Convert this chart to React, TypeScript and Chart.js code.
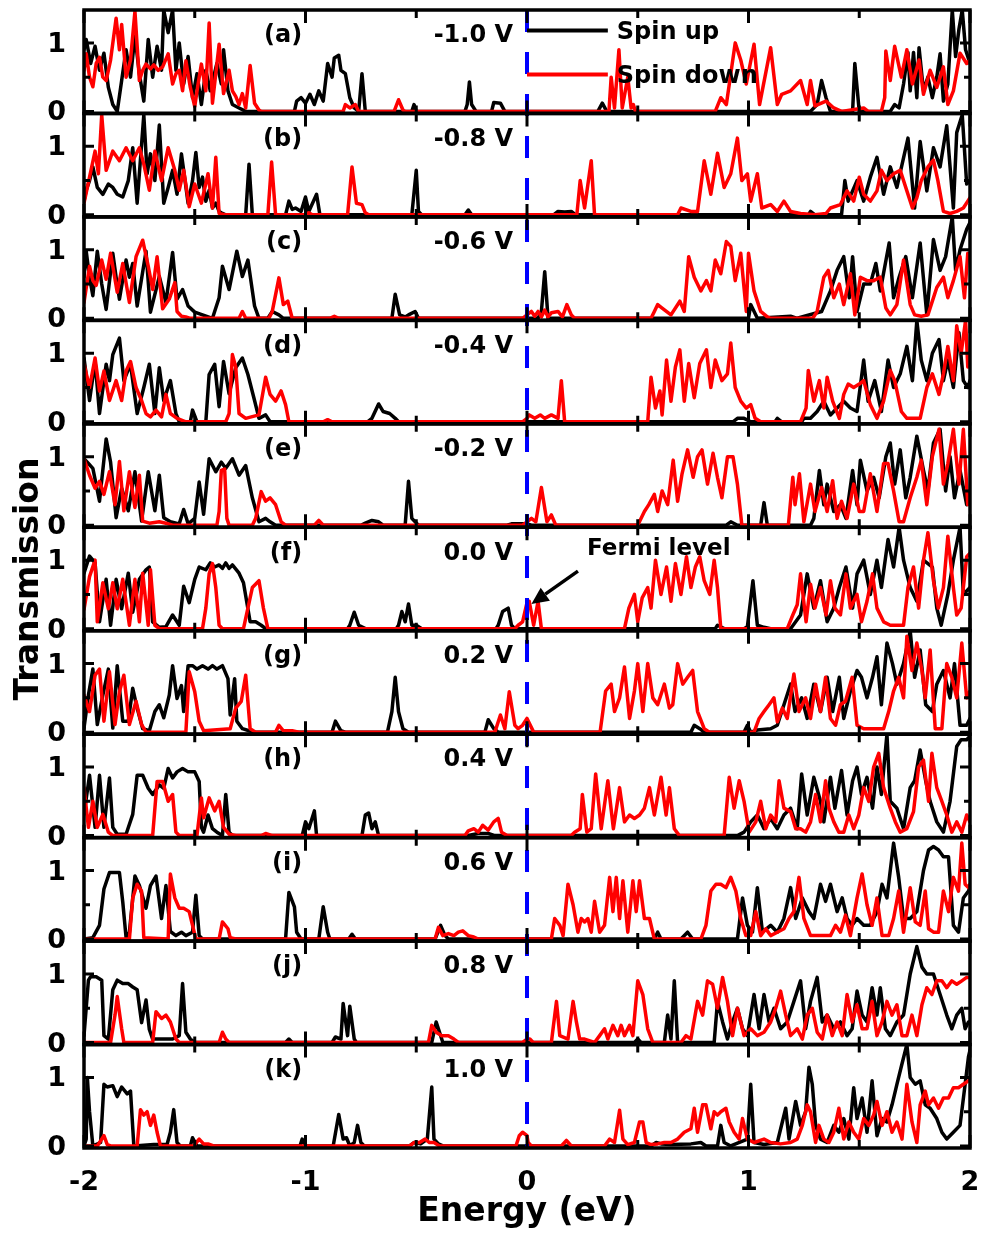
import React, { useEffect, useRef } from 'react';
import { Chart, registerables } from 'chart.js';

Chart.register(...registerables);

const FONT = '"DejaVu Sans", "Liberation Sans", Arial, sans-serif';

const xTickValues = [-2, -1, 0, 1, 2];
const xMinorTicks = [-1.5, -0.5, 0.5, 1.5];
const yTickValues = [0, 0.5, 1];
const panelLabels = ['(a)', '(b)', '(c)', '(d)', '(e)', '(f)', '(g)', '(h)', '(i)', '(j)', '(k)'];
const biasLabels = ['-1.0 V', '-0.8 V', '-0.6 V', '-0.4 V', '-0.2 V', '0.0 V', '0.2 V', '0.4 V', '0.6 V', '0.8 V', '1.0 V'];
const seriesNames = ['Spin up', 'Spin down'];

// Each series: flat list of (energy eV, transmission) pairs
const upA = [-2.0,0.9, -1.99,1.05, -1.97,0.7, -1.95,0.95, -1.93,0.6, -1.91,0.85, -1.89,0.35, -1.87,0.1, -1.85,0.0, -1.83,0.45, -1.81,0.9, -1.79,0.5, -1.77,1.1, -1.75,0.55, -1.73,0.15, -1.71,1.05, -1.69,0.5, -1.67,0.95, -1.65,0.6, -1.64,1.48, -1.62,1.15, -1.6,1.48, -1.585,0.6, -1.57,1.0, -1.55,0.4, -1.53,0.8, -1.51,0.2, -1.49,0.55, -1.47,0.1, -1.45,0.6, -1.43,0.3, -1.4,0.7, -1.38,0.4, -1.37,0.9, -1.35,0.3, -1.33,0.1, -1.3,0.05, -1.27,0, -1.05,0, -1.04,0.15, -1.02,0.2, -1.0,0.12, -0.98,0.25, -0.96,0.1, -0.94,0.3, -0.92,0.15, -0.9,0.7, -0.88,0.5, -0.87,0.78, -0.85,0.82, -0.84,0.6, -0.82,0.55, -0.8,0.2, -0.78,0.05, -0.76,0, -0.745,0.55, -0.73,0, -0.52,0, -0.51,0.1, -0.5,0, -0.28,0, -0.27,0.1, -0.26,0.43, -0.25,0.1, -0.23,0, -0.16,0, -0.15,0.13, -0.12,0.12, -0.1,0, 0.32,0, 0.34,0.12, 0.36,0, 1.28,0, 1.31,0.1, 1.33,0.45, 1.35,0.2, 1.37,0, 1.47,0, 1.48,0.7, 1.5,0, 1.64,0, 1.66,0.1, 1.68,0.05, 1.7,0.4, 1.72,0.86, 1.73,0.3, 1.745,0.86, 1.76,0.2, 1.77,0.93, 1.79,0.3, 1.81,0.5, 1.83,0.2, 1.85,0.5, 1.865,0.84, 1.88,0.15, 1.9,0.4, 1.92,1.48, 1.935,0.8, 1.95,1.2, 1.965,1.48, 1.98,0.9, 2.0,0.7];
const downA = [-2.0,0.6, -1.99,0.84, -1.975,0.5, -1.96,0.36, -1.945,0.7, -1.93,0.79, -1.915,0.5, -1.9,0.45, -1.88,0.75, -1.855,1.36, -1.84,0.9, -1.83,1.27, -1.81,0.5, -1.79,0.75, -1.77,1.46, -1.75,0.45, -1.735,0.6, -1.72,0.69, -1.7,0.62, -1.685,0.68, -1.665,0.6, -1.645,0.65, -1.62,0.84, -1.6,0.4, -1.585,0.55, -1.57,0.6, -1.555,0.3, -1.54,0.74, -1.52,0.35, -1.5,0.07, -1.485,0.4, -1.47,0.69, -1.45,0.3, -1.435,1.29, -1.42,0.12, -1.39,0.98, -1.37,0.26, -1.345,0.6, -1.33,0.3, -1.315,0.22, -1.3,0.1, -1.285,0.26, -1.27,0.05, -1.25,0.67, -1.23,0.12, -1.21,0.02, -1.2,0, -0.83,0, -0.82,0.1, -0.8,0.05, -0.775,0.1, -0.76,0, -0.6,0, -0.58,0.17, -0.56,0.02, -0.55,0, 0.37,0, 0.38,0.5, 0.395,0.05, 0.415,0.9, 0.43,0.05, 0.455,0.5, 0.47,0.05, 0.48,0.1, 0.49,0, 0.85,0, 0.875,0.2, 0.9,0.1, 0.94,1.0, 0.965,0.75, 0.99,0.4, 1.025,0.98, 1.05,0.1, 1.1,0.93, 1.13,0.1, 1.15,0.25, 1.19,0.3, 1.235,0.45, 1.265,0.1, 1.28,0.45, 1.3,0.08, 1.35,0.15, 1.385,0.05, 1.42,0, 1.52,0.05, 1.54,0, 1.6,0, 1.615,0.2, 1.62,0.88, 1.64,0.45, 1.66,0.95, 1.69,0.5, 1.715,0.9, 1.74,0.4, 1.77,0.75, 1.79,0.25, 1.82,0.6, 1.85,0.35, 1.88,0.65, 1.9,0.1, 1.925,0.3, 1.955,0.85, 1.985,0.7, 2.0,0.75];

const upB = [-2.0,0.2, -1.99,0.36, -1.975,0.5, -1.96,0.7, -1.94,0.4, -1.915,0.3, -1.89,0.45, -1.87,0.4, -1.85,0.3, -1.825,0.26, -1.8,0.5, -1.78,0.98, -1.76,0.17, -1.73,1.46, -1.715,0.6, -1.7,0.89, -1.68,0.5, -1.66,1.31, -1.64,0.17, -1.62,0.4, -1.6,0.65, -1.58,0.3, -1.56,0.89, -1.53,0.17, -1.51,0.5, -1.495,0.91, -1.48,0.4, -1.465,0.55, -1.45,0.2, -1.435,0.36, -1.42,0.1, -1.405,0.17, -1.39,0.05, -1.375,0.02, -1.36,0, -1.27,0, -1.255,0.74, -1.24,0, -1.09,0, -1.075,0.2, -1.06,0.08, -1.045,0.1, -1.02,0.05, -1.0,0.26, -0.985,0.05, -0.95,0.3, -0.935,0, -0.52,0, -0.5,0.65, -0.49,0.05, -0.475,0, -0.28,0, -0.265,0.07, -0.25,0, 0.12,0, 0.14,0.05, 0.17,0.04, 0.2,0.05, 0.22,0, 1.27,0, 1.28,0.05, 1.3,0, 1.42,0, 1.435,0.5, 1.45,0.2, 1.49,0.5, 1.52,0.2, 1.55,0.55, 1.58,0.84, 1.61,0.3, 1.64,0.7, 1.67,0.4, 1.72,1.12, 1.75,0.1, 1.775,1.07, 1.805,0.35, 1.835,0.98, 1.865,0.7, 1.895,1.3, 1.925,0.1, 1.94,1.2, 1.965,1.46, 1.985,0.45, 2.0,0.5];
const downB = [-2.0,0.17, -1.975,0.55, -1.95,0.93, -1.935,0.6, -1.92,1.46, -1.9,0.65, -1.87,0.93, -1.84,0.79, -1.81,0.98, -1.78,0.79, -1.75,0.98, -1.73,0.74, -1.705,0.36, -1.68,0.93, -1.65,0.5, -1.62,0.98, -1.59,0.65, -1.57,0.36, -1.55,0.65, -1.525,0.12, -1.5,0.45, -1.47,0.17, -1.44,0.6, -1.42,0.1, -1.405,0.84, -1.39,0.02, -1.36,0, -1.17,0, -1.153,0.77, -1.135,0, -1.0,0, -0.985,0.03, -0.97,0, -0.81,0, -0.79,0.7, -0.77,0.17, -0.745,0.15, -0.73,0.03, -0.715,0, 0.225,0, 0.24,0.5, 0.26,0.1, 0.29,0.79, 0.305,0, 0.68,0, 0.695,0.1, 0.74,0.05, 0.77,0.05, 0.8,0.79, 0.83,0.3, 0.86,0.9, 0.89,0.4, 0.92,0.6, 0.95,1.12, 0.97,0.5, 0.995,0.6, 1.01,0.2, 1.04,0.6, 1.06,0.1, 1.1,0.15, 1.13,0.05, 1.16,0.2, 1.19,0.05, 1.235,0.02, 1.3,0, 1.35,0.02, 1.37,0.1, 1.415,0.15, 1.445,0.35, 1.475,0.2, 1.5,0.55, 1.52,0.3, 1.55,0.2, 1.58,0.35, 1.6,0.65, 1.625,0.5, 1.655,0.6, 1.685,0.65, 1.715,0.35, 1.74,0.1, 1.76,0.25, 1.78,0.5, 1.81,0.7, 1.835,0.8, 1.855,0.5, 1.88,0.05, 1.91,0.02, 1.94,0.05, 1.97,0.1, 1.99,0.2, 2.0,0.25];

const upC = [-2.0,0.6, -1.99,0.98, -1.975,0.6, -1.96,0.33, -1.94,0.98, -1.92,0.5, -1.9,0.13, -1.87,0.95, -1.855,0.6, -1.84,0.28, -1.81,0.85, -1.795,0.6, -1.78,0.8, -1.76,0.18, -1.72,0.98, -1.7,0.09, -1.66,0.61, -1.63,0.23, -1.6,0.96, -1.58,0.28, -1.555,0.42, -1.53,0.18, -1.5,0.09, -1.465,0.05, -1.42,0, -1.39,0.3, -1.375,0.76, -1.345,0.42, -1.31,0.98, -1.285,0.61, -1.26,0.85, -1.23,0.18, -1.21,0, -1.17,0, -1.15,0.1, -1.12,0.05, -1.1,0, -0.61,0, -0.595,0.35, -0.575,0.05, -0.55,0.02, -0.535,0.05, -0.505,0.1, -0.49,0, 0.05,0, 0.065,0.1, 0.08,0.68, 0.095,0, 1.0,0, 1.01,0.2, 1.04,0, 1.19,0.03, 1.22,0, 1.33,0.1, 1.37,0.4, 1.4,0.7, 1.43,0.9, 1.455,0.3, 1.47,0.9, 1.49,0.1, 1.52,0.5, 1.55,0.5, 1.575,0.8, 1.595,0.4, 1.635,1.1, 1.655,0.3, 1.68,0.6, 1.71,0.9, 1.74,0.3, 1.775,1.1, 1.805,0.05, 1.835,1.15, 1.865,0.7, 1.89,0.9, 1.92,1.48, 1.935,0.7, 1.955,1.0, 1.985,1.3, 2.0,1.4];
const downC = [-2.0,0.23, -1.975,0.76, -1.96,0.55, -1.945,0.48, -1.92,0.85, -1.9,0.57, -1.88,0.95, -1.85,0.38, -1.825,0.8, -1.795,0.23, -1.765,0.9, -1.735,1.14, -1.71,0.76, -1.69,0.42, -1.67,0.9, -1.645,0.14, -1.615,0.28, -1.59,0.52, -1.58,0.1, -1.56,0.03, -1.54,0.02, -1.52,0, -1.3,0, -1.285,0.1, -1.27,0, -1.165,0, -1.15,0.1, -1.12,0.59, -1.1,0.2, -1.08,0.25, -1.06,0, -0.89,0, -0.87,0.03, -0.85,0, -0.02,0, 0.0,0.05, 0.02,0.1, 0.035,0.03, 0.05,0.1, 0.065,0.02, 0.08,0.12, 0.095,0.02, 0.11,0.08, 0.14,0.1, 0.16,0.02, 0.18,0.2, 0.2,0.05, 0.215,0, 0.56,0, 0.575,0.1, 0.59,0.2, 0.61,0.15, 0.65,0.05, 0.69,0.25, 0.71,0.1, 0.73,0.9, 0.755,0.6, 0.785,0.4, 0.81,0.55, 0.83,0.4, 0.85,0.85, 0.875,0.65, 0.9,1.12, 0.92,1.05, 0.94,0.55, 0.965,0.95, 0.99,0.1, 1.0,0.95, 1.025,0.4, 1.055,0.1, 1.085,0.02, 1.1,0, 1.29,0, 1.31,0.1, 1.34,0.6, 1.36,0.7, 1.385,0.3, 1.41,0.5, 1.43,0.2, 1.46,0.65, 1.48,0.05, 1.505,0.6, 1.535,0.55, 1.565,0.55, 1.595,0.6, 1.62,0.15, 1.64,0.05, 1.67,0.2, 1.7,0.85, 1.73,0.2, 1.75,0.05, 1.78,0.03, 1.81,0.05, 1.85,0.45, 1.88,0.6, 1.9,0.3, 1.925,0.55, 1.955,0.9, 1.975,0.3, 1.99,0.95, 2.0,0.9];

const upD = [-2.0,0.93, -1.975,0.31, -1.95,0.88, -1.93,0.12, -1.9,0.84, -1.885,0.6, -1.87,0.98, -1.84,1.22, -1.82,0.6, -1.79,0.84, -1.76,0.12, -1.73,0.5, -1.705,0.84, -1.68,0.12, -1.66,0.79, -1.64,0.31, -1.61,0.6, -1.585,0.12, -1.57,0, -1.52,0, -1.51,0.17, -1.49,0, -1.45,0, -1.435,0.69, -1.41,0.84, -1.39,0.22, -1.37,0.88, -1.345,0.41, -1.315,0.79, -1.285,0.93, -1.26,0.69, -1.23,0.31, -1.21,0.05, -1.18,0.1, -1.16,0, -0.72,0, -0.7,0.05, -0.67,0.26, -0.65,0.15, -0.62,0.12, -0.595,0.05, -0.58,0, 0.93,0, 0.95,0.05, 0.98,0.05, 1.01,0, 1.12,0, 1.13,0.05, 1.15,0, 1.24,0, 1.25,0.05, 1.28,0.05, 1.31,0.15, 1.34,0.3, 1.37,0.1, 1.4,0.2, 1.43,0.3, 1.46,0.2, 1.49,0.15, 1.52,0.9, 1.54,0.3, 1.57,0.6, 1.6,0.15, 1.63,0.9, 1.655,0.5, 1.685,0.7, 1.715,1.1, 1.74,0.6, 1.76,1.48, 1.78,0.9, 1.805,0.6, 1.83,1.0, 1.86,1.2, 1.88,0.6, 1.9,0.9, 1.925,0.5, 1.95,1.3, 1.97,0.6, 1.99,0.5, 2.0,0.6];
const downD = [-2.0,0.84, -1.975,0.5, -1.95,0.93, -1.93,0.45, -1.91,0.74, -1.885,0.31, -1.855,0.6, -1.83,0.31, -1.81,0.74, -1.79,0.88, -1.765,0.5, -1.74,0.31, -1.72,0.12, -1.7,0.07, -1.675,0.17, -1.65,0.07, -1.63,0.4, -1.61,0.12, -1.58,0.05, -1.54,0, -1.36,0, -1.345,0.12, -1.33,0.98, -1.315,0.8, -1.3,0.12, -1.27,0.05, -1.21,0.1, -1.18,0.65, -1.16,0.4, -1.135,0.3, -1.11,0.45, -1.09,0.25, -1.075,0, -0.92,0, -0.9,0.03, -0.88,0, -0.02,0, 0.0,0.05, 0.01,0.1, 0.035,0.05, 0.06,0.1, 0.08,0.05, 0.11,0.1, 0.14,0.05, 0.155,0.6, 0.17,0, 0.545,0, 0.56,0.65, 0.58,0.2, 0.6,0.45, 0.61,0.1, 0.63,0.9, 0.65,0.3, 0.67,0.8, 0.69,1.05, 0.71,0.3, 0.73,0.85, 0.755,0.35, 0.78,0.85, 0.81,1.05, 0.83,0.5, 0.85,0.9, 0.88,0.6, 0.905,0.7, 0.92,1.15, 0.94,0.5, 0.965,0.3, 0.99,0.2, 1.01,0.25, 1.03,0.05, 1.055,0, 1.235,0, 1.26,0.2, 1.27,0.75, 1.295,0.3, 1.32,0.6, 1.34,0.2, 1.355,0.65, 1.38,0.3, 1.41,0.05, 1.43,0.4, 1.45,0.55, 1.475,0.5, 1.5,0.55, 1.52,0.6, 1.55,0.25, 1.58,0.05, 1.61,0.3, 1.64,0.75, 1.66,0.6, 1.69,0.15, 1.715,0.05, 1.745,0.05, 1.775,0.05, 1.805,0.5, 1.83,0.7, 1.86,0.4, 1.88,0.7, 1.9,1.1, 1.925,0.6, 1.94,1.4, 1.96,1.0, 1.98,1.48, 1.99,0.8, 2.0,0.9];

const upE = [-2.0,0.97, -1.98,0.9, -1.96,0.83, -1.93,0.35, -1.9,1.26, -1.88,0.92, -1.855,0.11, -1.83,0.54, -1.8,0.21, -1.77,0.78, -1.74,0.06, -1.71,0.78, -1.68,0.21, -1.66,0.73, -1.64,0.11, -1.61,0.05, -1.57,0.02, -1.55,0.23, -1.53,0.02, -1.5,0.1, -1.48,0.63, -1.46,0.16, -1.435,0.97, -1.405,0.78, -1.38,0.92, -1.36,0.83, -1.33,0.97, -1.3,0.73, -1.27,0.87, -1.24,0.4, -1.21,0.05, -1.18,0.1, -1.16,0.05, -1.135,0, -0.75,0, -0.73,0.03, -0.7,0.07, -0.67,0.05, -0.65,0, -0.55,0, -0.535,0.64, -0.52,0.1, -0.49,0, -0.09,0, -0.07,0.02, -0.025,0.02, 0.0,0.02, 0.02,0, 0.9,0, 0.92,0.05, 0.95,0, 1.055,0, 1.07,0.33, 1.085,0, 1.28,0, 1.295,0.1, 1.32,0.8, 1.34,0.3, 1.355,0.6, 1.385,0.2, 1.415,0.3, 1.44,0.1, 1.47,0.8, 1.49,0.3, 1.505,0.95, 1.535,0.5, 1.565,0.7, 1.59,0.4, 1.62,1.0, 1.64,1.2, 1.66,0.6, 1.685,1.1, 1.71,0.4, 1.73,0.7, 1.76,1.3, 1.79,0.8, 1.81,0.5, 1.835,1.2, 1.865,1.4, 1.89,0.5, 1.91,1.0, 1.93,0.4, 1.955,0.8, 1.985,0.3, 2.0,0.5];
const downE = [-2.0,0.97, -1.975,0.73, -1.95,0.54, -1.93,0.64, -1.91,0.45, -1.885,0.78, -1.86,0.3, -1.84,0.93, -1.82,0.21, -1.795,0.78, -1.77,0.26, -1.75,0.73, -1.735,0.06, -1.705,0.03, -1.66,0.05, -1.63,0.03, -1.6,0, -1.4,0, -1.39,0.2, -1.38,0.8, -1.365,0.82, -1.355,0.1, -1.345,0, -1.24,0, -1.225,0.1, -1.2,0.49, -1.18,0.35, -1.16,0.4, -1.135,0.3, -1.11,0.05, -1.09,0, -0.96,0, -0.94,0.07, -0.92,0, -0.02,0, 0.0,0.05, 0.02,0.1, 0.04,0.05, 0.065,0.55, 0.09,0.05, 0.11,0.15, 0.13,0, 0.5,0, 0.53,0.2, 0.55,0.3, 0.575,0.45, 0.59,0.2, 0.61,0.5, 0.635,0.3, 0.66,0.95, 0.68,0.35, 0.7,0.75, 0.725,1.1, 0.75,0.7, 0.77,1.0, 0.79,1.1, 0.815,0.6, 0.84,1.05, 0.86,0.7, 0.88,0.4, 0.905,1.0, 0.93,1.0, 0.95,0.6, 0.97,0, 1.18,0, 1.2,0.7, 1.21,0.3, 1.23,0.75, 1.25,0.05, 1.28,0.6, 1.3,0.2, 1.33,0.55, 1.355,0.2, 1.38,0.65, 1.4,0.1, 1.42,0.35, 1.445,0.1, 1.475,0.6, 1.5,0.2, 1.52,0.2, 1.55,0.75, 1.58,0.2, 1.61,0.9, 1.63,0.9, 1.655,0.5, 1.68,0.05, 1.7,0.05, 1.73,0.4, 1.76,0.7, 1.78,0.95, 1.805,0.3, 1.83,1.0, 1.86,1.4, 1.88,0.6, 1.9,0.9, 1.925,1.4, 1.95,0.6, 1.97,1.4, 1.99,0.3, 2.0,0.4];

const upF = [-2.0,0.81, -1.975,1.06, -1.95,0.96, -1.93,0.1, -1.9,0.72, -1.88,0.05, -1.855,0.72, -1.83,0.29, -1.8,0.81, -1.78,0.24, -1.75,0.72, -1.72,0.86, -1.705,0.9, -1.69,0.1, -1.66,0.02, -1.63,0.03, -1.6,0.2, -1.57,0.05, -1.55,0.62, -1.525,0.38, -1.5,0.72, -1.48,0.9, -1.45,0.86, -1.43,0.96, -1.41,0.9, -1.39,0.93, -1.375,0.88, -1.36,0.96, -1.345,0.88, -1.33,0.93, -1.3,0.81, -1.28,0.67, -1.26,0.29, -1.25,0.1, -1.225,0.1, -1.2,0.05, -1.18,0, -0.81,0, -0.8,0.05, -0.78,0.24, -0.76,0.05, -0.73,0, -0.59,0, -0.58,0.05, -0.565,0.25, -0.55,0.1, -0.535,0.36, -0.52,0.05, -0.5,0.05, -0.475,0, -0.14,0, -0.13,0.05, -0.11,0.25, -0.085,0.3, -0.07,0.05, -0.055,0, 0.85,0, 0.86,0.05, 0.89,0, 0.98,0, 0.995,0.03, 1.02,0.7, 1.04,0.05, 1.07,0.02, 1.1,0, 1.19,0, 1.235,0.2, 1.265,0.8, 1.295,0.3, 1.325,0.7, 1.355,0.1, 1.385,0.3, 1.41,0.6, 1.44,0.9, 1.47,0.3, 1.49,0.8, 1.52,1.0, 1.55,0.5, 1.58,1.0, 1.6,0.6, 1.63,1.3, 1.655,0.9, 1.68,1.48, 1.7,1.0, 1.73,0.6, 1.76,0.4, 1.79,1.0, 1.83,0.9, 1.85,0.3, 1.87,0.05, 1.9,0.5, 1.925,1.0, 1.955,1.48, 1.97,0.5, 2.0,0.6];
const downF = [-2.0,0.28, -1.975,0.76, -1.95,1.0, -1.94,0.1, -1.915,0.67, -1.89,0.29, -1.87,0.67, -1.85,0.29, -1.825,0.72, -1.795,0.05, -1.77,0.72, -1.75,0.1, -1.735,0.81, -1.71,0.05, -1.7,0.86, -1.68,0.05, -1.66,0, -1.465,0, -1.45,0.3, -1.435,0.8, -1.42,0.95, -1.405,0.6, -1.39,0.05, -1.375,0, -1.28,0, -1.26,0.3, -1.24,0.6, -1.21,0.7, -1.19,0.3, -1.17,0, -0.055,0, -0.04,0.05, -0.02,0.1, 0.0,0.38, 0.01,0.4, 0.03,0.05, 0.05,0.4, 0.065,0, 0.44,0, 0.46,0.3, 0.485,0.5, 0.5,0.1, 0.52,0.45, 0.545,0.6, 0.56,0.3, 0.58,1.0, 0.605,0.5, 0.63,0.9, 0.65,0.4, 0.67,0.95, 0.695,0.5, 0.72,1.05, 0.74,0.6, 0.76,0.9, 0.78,1.05, 0.8,0.7, 0.825,0.5, 0.845,1.0, 0.86,0.6, 0.875,0, 1.175,0, 1.2,0.2, 1.22,0.35, 1.235,0.8, 1.26,0.1, 1.28,0.65, 1.3,0.3, 1.325,0.6, 1.35,0.2, 1.37,0.7, 1.39,0.3, 1.415,0.2, 1.44,0.8, 1.46,0.3, 1.49,0.5, 1.51,0.1, 1.535,0.4, 1.56,0.8, 1.58,0.3, 1.61,0.1, 1.64,0.05, 1.67,0.05, 1.7,0.05, 1.72,0.6, 1.745,0.9, 1.768,0.3, 1.79,1.0, 1.81,1.4, 1.835,0.7, 1.857,0.3, 1.88,0.6, 1.9,1.35, 1.925,0.6, 1.94,0.2, 1.96,0.3, 1.985,1.05, 2.0,1.1];

const upG = [-2.0,0.06, -1.98,0.54, -1.96,0.92, -1.94,0.11, -1.915,0.54, -1.89,0.92, -1.87,0.06, -1.85,0.97, -1.825,0.16, -1.8,0.16, -1.78,0.64, -1.76,0.35, -1.735,0.05, -1.705,0.02, -1.68,0.3, -1.66,0.4, -1.64,0.21, -1.615,0.54, -1.6,0.97, -1.58,0.49, -1.56,0.68, -1.55,0.3, -1.53,0.97, -1.51,0.97, -1.49,0.92, -1.465,0.97, -1.44,0.92, -1.42,0.97, -1.4,0.92, -1.375,0.97, -1.35,0.78, -1.34,0.25, -1.32,0.78, -1.31,0.16, -1.285,0.05, -1.255,0.02, -1.24,0, -0.88,0, -0.865,0.16, -0.84,0.02, -0.82,0, -0.63,0, -0.61,0.3, -0.595,0.8, -0.58,0.3, -0.56,0.05, -0.535,0, -0.19,0, -0.175,0.18, -0.15,0.05, -0.13,0, 0.74,0, 0.755,0.1, 0.78,0.05, 0.8,0, 0.98,0, 0.995,0.1, 1.01,0, 1.04,0.03, 1.1,0.05, 1.13,0.1, 1.19,0.7, 1.21,0.3, 1.24,0.5, 1.265,0.2, 1.295,0.7, 1.325,0.3, 1.355,0.8, 1.38,0.3, 1.41,0.8, 1.43,0.2, 1.46,0.6, 1.49,0.9, 1.51,0.8, 1.535,0.5, 1.56,0.8, 1.58,1.1, 1.6,0.4, 1.625,1.3, 1.65,1.0, 1.67,0.7, 1.7,1.0, 1.73,1.48, 1.75,0.8, 1.775,1.2, 1.8,0.4, 1.83,0.3, 1.85,0.7, 1.88,0.9, 1.91,0.5, 1.93,1.0, 1.955,0.1, 1.985,0.1, 2.0,0.2];
const downG = [-2.0,0.54, -1.975,0.3, -1.95,0.83, -1.93,0.92, -1.91,0.16, -1.885,0.88, -1.86,0.11, -1.84,0.59, -1.82,0.83, -1.795,0.11, -1.765,0.45, -1.74,0.11, -1.72,0, -1.54,0, -1.525,0.88, -1.5,0.59, -1.48,0.16, -1.46,0.02, -1.34,0.05, -1.315,0.35, -1.29,0.45, -1.27,0.83, -1.25,0.05, -1.225,0, -1.135,0, -1.12,0.1, -1.1,0.02, -1.06,0.02, -1.03,0, -0.145,0, -0.12,0.25, -0.1,0.05, -0.08,0.59, -0.055,0.1, -0.04,0.05, -0.02,0.1, 0.0,0.2, 0.03,0, 0.33,0, 0.355,0.6, 0.38,0.7, 0.395,0.3, 0.418,0.5, 0.44,0.95, 0.463,0.2, 0.485,0.6, 0.5,1.0, 0.523,0.3, 0.545,1.0, 0.568,0.5, 0.59,0.4, 0.62,0.7, 0.643,0.35, 0.658,0.4, 0.68,1.0, 0.703,0.7, 0.725,0.8, 0.748,0.9, 0.77,0.3, 0.8,0.05, 0.823,0, 1.025,0, 1.048,0.2, 1.07,0.3, 1.093,0.4, 1.115,0.5, 1.13,0.15, 1.153,0.35, 1.175,0.2, 1.205,0.85, 1.228,0.3, 1.258,0.5, 1.28,0.2, 1.303,0.7, 1.325,0.3, 1.348,0.8, 1.37,0.2, 1.393,0.1, 1.415,0.4, 1.438,0.45, 1.468,0.8, 1.49,0.1, 1.52,0.05, 1.55,0.05, 1.58,0.05, 1.61,0.05, 1.633,0.3, 1.655,0.6, 1.678,0.8, 1.7,0.5, 1.715,1.4, 1.738,0.9, 1.76,1.3, 1.783,0.9, 1.798,0.5, 1.82,1.2, 1.843,0.05, 1.873,0.05, 1.895,1.0, 1.918,0.8, 1.94,0.5, 1.963,1.3, 1.985,0.5, 2.0,0.6];

const upH = [-2.0,0.31, -1.975,0.88, -1.95,0.12, -1.93,0.88, -1.91,0.12, -1.885,0.84, -1.87,0.12, -1.85,0.02, -1.81,0.02, -1.78,0.31, -1.76,0.88, -1.735,0.88, -1.71,0.69, -1.69,0.6, -1.66,0.74, -1.64,0.69, -1.62,0.98, -1.6,0.84, -1.58,0.93, -1.555,0.98, -1.53,0.93, -1.5,0.93, -1.48,0.79, -1.47,0.12, -1.46,0.05, -1.44,0.3, -1.42,0.1, -1.4,0.05, -1.375,0, -1.36,0.6, -1.345,0.05, -1.33,0, -1.015,0, -1.0,0.2, -0.985,0.1, -0.96,0.36, -0.95,0, -0.745,0, -0.73,0.3, -0.715,0.33, -0.7,0.1, -0.685,0.2, -0.67,0, -0.265,0, -0.22,0.03, -0.175,0.03, -0.145,0, 0.95,0, 0.98,0.05, 1.01,0.2, 1.04,0.3, 1.07,0.1, 1.1,0.25, 1.13,0.1, 1.16,0.3, 1.19,0.4, 1.22,0.1, 1.24,0.9, 1.265,0.3, 1.295,0.85, 1.325,0.5, 1.34,0.2, 1.37,0.85, 1.39,0.4, 1.42,0.95, 1.445,0.3, 1.47,0.8, 1.49,1.0, 1.51,0.6, 1.535,0.85, 1.56,0.4, 1.58,1.0, 1.6,0.6, 1.625,1.48, 1.64,0.5, 1.67,0.4, 1.7,0.1, 1.73,0.7, 1.75,0.8, 1.775,1.25, 1.8,0.8, 1.82,0.5, 1.85,0.2, 1.88,0.05, 1.91,0.5, 1.94,1.3, 1.96,1.4, 1.985,1.4, 2.0,1.45];
const downH = [-2.0,0.7, -1.98,0.12, -1.96,0.5, -1.94,0.12, -1.915,0.31, -1.89,0.05, -1.87,0, -1.69,0, -1.67,0.79, -1.645,0.79, -1.62,0.5, -1.6,0.6, -1.585,0.05, -1.57,0, -1.49,0, -1.47,0.55, -1.46,0.26, -1.435,0.55, -1.41,0.36, -1.39,0.5, -1.37,0.12, -1.345,0.02, -1.315,0, -1.2,0, -1.18,0.03, -1.15,0, -0.28,0, -0.265,0.07, -0.24,0.1, -0.22,0.05, -0.2,0.15, -0.175,0.08, -0.15,0.2, -0.13,0.25, -0.115,0.05, -0.09,0, 0.2,0, 0.215,0.05, 0.24,0.1, 0.25,0.6, 0.27,0.05, 0.29,0.1, 0.31,0.9, 0.335,0.1, 0.365,0.8, 0.39,0.1, 0.418,0.7, 0.44,0.2, 0.463,0.3, 0.485,0.25, 0.508,0.3, 0.53,0.4, 0.553,0.7, 0.575,0.3, 0.605,0.85, 0.628,0.3, 0.643,0.7, 0.665,0.1, 0.688,0, 0.89,0, 0.913,0.85, 0.935,0.4, 0.958,0.8, 0.98,0.5, 1.003,0.05, 1.033,0.2, 1.055,0.5, 1.078,0.1, 1.1,0.3, 1.123,0.2, 1.138,0.8, 1.16,0.4, 1.19,0.35, 1.213,0.1, 1.235,0.1, 1.258,0.05, 1.28,0.2, 1.303,0.6, 1.325,0.2, 1.348,0.8, 1.363,0.4, 1.385,0.2, 1.408,0.05, 1.43,0.05, 1.453,0.3, 1.475,0.1, 1.498,0.3, 1.52,0.7, 1.543,0.5, 1.565,1.0, 1.588,1.2, 1.61,0.7, 1.64,0.4, 1.663,0.2, 1.685,0.05, 1.715,0.1, 1.745,0.35, 1.768,1.0, 1.79,1.1, 1.813,0.5, 1.828,1.2, 1.85,0.7, 1.873,0.5, 1.895,0.3, 1.918,0.05, 1.94,0.2, 1.963,0.05, 1.985,0.3, 2.0,0.2];

const upI = [-2.0,0, -1.96,0.02, -1.93,0.2, -1.91,0.73, -1.885,0.97, -1.86,0.97, -1.84,0.97, -1.825,0.54, -1.81,0.02, -1.795,0.1, -1.77,0.92, -1.75,0.78, -1.72,0.45, -1.7,0.78, -1.675,0.92, -1.65,0.3, -1.63,0.78, -1.61,0.11, -1.585,0.05, -1.56,0.1, -1.54,0.05, -1.51,0.1, -1.495,0.64, -1.48,0.05, -1.465,0, -1.09,0, -1.075,0.68, -1.05,0.47, -1.04,0.1, -1.02,0, -0.94,0, -0.92,0.47, -0.9,0.1, -0.89,0, -0.805,0, -0.79,0.07, -0.775,0, -0.415,0, -0.39,0.2, -0.37,0.05, -0.355,0, 0.575,0, 0.59,0.1, 0.605,0, 0.695,0, 0.725,0.1, 0.748,0, 0.95,0, 0.973,0.6, 0.995,0.2, 1.018,0.1, 1.04,0.75, 1.063,0.1, 1.1,0.2, 1.13,0.1, 1.16,0.3, 1.19,0.75, 1.213,0.3, 1.243,0.6, 1.273,0.4, 1.295,0.3, 1.325,0.8, 1.348,0.55, 1.37,0.8, 1.4,0.4, 1.423,0.6, 1.445,0.3, 1.468,0.2, 1.49,0.3, 1.52,0.2, 1.55,0.2, 1.58,0.4, 1.603,0.8, 1.625,0.6, 1.655,1.4, 1.678,0.9, 1.7,0.3, 1.73,0.3, 1.76,0.4, 1.79,1.0, 1.813,1.3, 1.835,1.35, 1.858,1.3, 1.88,1.2, 1.903,1.2, 1.925,0.2, 1.948,0.1, 1.97,0.6, 1.993,0.7, 2.0,0.75];
const downI = [-2.0,0, -1.795,0, -1.78,0.6, -1.76,0.8, -1.74,0.7, -1.73,0.02, -1.62,0, -1.61,0.95, -1.59,0.6, -1.57,0.45, -1.55,0.45, -1.525,0.4, -1.51,0.2, -1.495,0, -1.39,0, -1.375,0.25, -1.35,0.15, -1.34,0.02, -1.315,0, -0.415,0, -0.4,0.17, -0.38,0.05, -0.355,0.08, -0.33,0.05, -0.31,0.1, -0.29,0.12, -0.265,0.05, -0.24,0.03, -0.22,0, 0.11,0, 0.125,0.3, 0.148,0.2, 0.163,0.05, 0.185,0.8, 0.208,0.5, 0.23,0.1, 0.245,0.3, 0.26,0.25, 0.275,0.3, 0.29,0.1, 0.305,0.55, 0.328,0.1, 0.35,0.2, 0.373,0.9, 0.388,0.4, 0.403,0.9, 0.418,0.3, 0.433,0.85, 0.455,0.1, 0.478,0.85, 0.493,0.4, 0.508,0.85, 0.53,0.3, 0.553,0.3, 0.575,0, 0.785,0, 0.808,0.2, 0.83,0.7, 0.853,0.8, 0.875,0.8, 0.898,0.75, 0.92,0.9, 0.943,0.7, 0.965,0.3, 0.988,0.05, 1.01,0.05, 1.033,0.4, 1.055,0.05, 1.078,0.15, 1.1,0.05, 1.13,0.1, 1.16,0.15, 1.183,0.3, 1.205,0.4, 1.228,0.9, 1.25,0.3, 1.28,0.05, 1.31,0.05, 1.34,0.05, 1.37,0.05, 1.393,0.2, 1.415,0.1, 1.438,0.35, 1.46,0.05, 1.49,0.6, 1.513,0.95, 1.535,0.5, 1.558,0.2, 1.58,0.6, 1.603,0.05, 1.633,0.05, 1.655,0.3, 1.678,0.7, 1.7,0.1, 1.73,0.75, 1.753,0.25, 1.775,0.2, 1.798,0.7, 1.813,0.15, 1.835,0.1, 1.858,0.1, 1.88,0.7, 1.903,0.4, 1.925,0.9, 1.948,0.7, 1.963,1.4, 1.978,0.8, 1.993,0.75, 2.0,0.8];

const upJ = [-2.0,0.1, -1.98,0.91, -1.97,0.96, -1.945,0.96, -1.92,0.91, -1.91,0.1, -1.89,0.05, -1.87,0.77, -1.85,0.91, -1.825,0.86, -1.8,0.86, -1.78,0.81, -1.76,0.77, -1.74,0.29, -1.72,0.62, -1.705,0.19, -1.69,0.05, -1.66,0.05, -1.63,0.05, -1.6,0.05, -1.57,0.1, -1.555,0.86, -1.54,0.15, -1.52,0.05, -1.5,0, -1.09,0, -1.075,0.05, -1.06,0, -0.88,0, -0.865,0.08, -0.84,0.05, -0.83,0.57, -0.81,0.1, -0.8,0.53, -0.78,0.05, -0.77,0, -0.43,0, -0.41,0.3, -0.39,0.1, -0.38,0, 0.485,0, 0.5,0.05, 0.515,0, 0.62,0, 0.635,0.4, 0.65,0.05, 0.665,0.9, 0.68,0, 0.845,0, 0.86,0.6, 0.883,0.3, 0.905,0.05, 0.928,0.3, 0.95,0.5, 0.973,0.2, 0.995,0.1, 1.025,0.7, 1.048,0.2, 1.07,0.7, 1.093,0.3, 1.115,0.5, 1.145,0.2, 1.175,0.3, 1.205,0.6, 1.235,0.9, 1.258,0.2, 1.28,0.6, 1.31,0.95, 1.333,0.3, 1.355,0.4, 1.385,0.2, 1.415,0.3, 1.445,0.1, 1.468,0.2, 1.49,0.75, 1.513,0.4, 1.535,0.3, 1.558,0.8, 1.58,0.4, 1.595,0.8, 1.618,0.2, 1.64,0.1, 1.67,0.3, 1.7,0.4, 1.73,1.0, 1.76,1.4, 1.783,1.1, 1.805,1.0, 1.835,1.0, 1.865,0.7, 1.895,0.4, 1.918,0.2, 1.94,0.4, 1.963,0.5, 1.978,0.2, 1.993,0.3, 2.0,0.3];
const downJ = [-2.0,0, -1.88,0, -1.86,0.4, -1.85,0.67, -1.83,0.2, -1.82,0, -1.69,0, -1.675,0.45, -1.65,0.35, -1.63,0.4, -1.61,0.3, -1.585,0.05, -1.57,0, -1.39,0, -1.375,0.15, -1.36,0.05, -1.345,0, -0.445,0, -0.43,0.25, -0.41,0.15, -0.385,0.1, -0.355,0.1, -0.33,0.05, -0.31,0, -0.02,0, 0.0,0.05, 0.013,0.05, 0.028,0, 0.11,0, 0.133,0.6, 0.148,0.1, 0.185,0.05, 0.208,0.6, 0.223,0.3, 0.238,0.05, 0.26,0.05, 0.305,0, 0.328,0.1, 0.35,0.2, 0.365,0.05, 0.388,0.25, 0.41,0.1, 0.425,0.25, 0.44,0.1, 0.463,0.25, 0.478,0.1, 0.5,0.9, 0.523,0.7, 0.545,0.2, 0.568,0, 0.695,0, 0.718,0.1, 0.74,0.05, 0.77,0.6, 0.793,0.4, 0.815,0.9, 0.838,0.85, 0.86,0.5, 0.883,0.95, 0.905,0.6, 0.928,0.1, 0.95,0.5, 0.98,0.1, 1.01,0.2, 1.04,0.1, 1.07,0.15, 1.1,0.3, 1.123,0.5, 1.145,0.75, 1.168,0.4, 1.19,0.1, 1.22,0.2, 1.243,0.05, 1.265,0.4, 1.288,0.5, 1.31,0.15, 1.333,0.05, 1.355,0.4, 1.378,0.1, 1.4,0.3, 1.423,0.1, 1.445,0.7, 1.468,0.3, 1.49,0.55, 1.513,0.2, 1.535,0.2, 1.558,0.6, 1.58,0.1, 1.603,0.3, 1.625,0.6, 1.648,0.4, 1.67,0.55, 1.693,0.1, 1.715,0.1, 1.738,0.4, 1.76,0.1, 1.783,0.55, 1.805,0.8, 1.828,0.7, 1.85,0.9, 1.873,0.9, 1.895,0.8, 1.918,0.9, 1.94,0.85, 1.963,0.9, 1.985,0.95, 2.0,0.95];

const upK = [-2.0,0, -1.99,0.1, -1.985,1.0, -1.975,0.5, -1.96,0, -1.925,0.05, -1.91,0.9, -1.895,0.86, -1.87,0.88, -1.85,0.72, -1.83,0.86, -1.805,0.76, -1.79,0.8, -1.775,0, -1.685,0.02, -1.625,0.02, -1.61,0.2, -1.595,0.53, -1.58,0.05, -1.565,0, -1.52,0, -1.51,0.12, -1.49,0, -1.025,0, -1.015,0.1, -1.0,0, -0.875,0, -0.85,0.46, -0.83,0.1, -0.815,0.12, -0.8,0, -0.78,0.05, -0.765,0.3, -0.75,0.05, -0.735,0, -0.53,0, -0.51,0.05, -0.48,0.03, -0.45,0.1, -0.43,0.86, -0.42,0.1, -0.4,0.03, -0.38,0, 0.56,0, 0.583,0.05, 0.605,0.03, 0.65,0.02, 0.74,0.03, 0.785,0.05, 0.808,0, 0.86,0, 0.875,0.3, 0.89,0.05, 0.92,0, 0.995,0.1, 1.01,0.9, 1.025,0.05, 1.07,0.02, 1.13,0.05, 1.168,0.55, 1.183,0.1, 1.213,0.65, 1.235,0.3, 1.258,0.5, 1.273,1.15, 1.288,0.9, 1.303,0.3, 1.325,0.1, 1.355,0.05, 1.385,0.3, 1.408,0.2, 1.43,0.4, 1.453,0.1, 1.475,0.85, 1.49,0.4, 1.513,0.7, 1.535,0.2, 1.558,0.95, 1.58,0.15, 1.603,0.4, 1.625,0.35, 1.648,0.6, 1.67,0.9, 1.693,1.2, 1.715,1.48, 1.73,1.0, 1.753,0.9, 1.775,0.95, 1.798,0.6, 1.82,0.55, 1.85,0.4, 1.873,0.2, 1.895,0.1, 1.925,0.2, 1.955,0.3, 1.978,0.9, 1.993,1.3, 2.0,1.4];
const downK = [-2.0,0, -1.94,0, -1.91,0.15, -1.895,0.02, -1.88,0, -1.76,0, -1.745,0.53, -1.73,0.45, -1.715,0.5, -1.7,0.3, -1.685,0.45, -1.67,0.2, -1.655,0, -1.505,0, -1.48,0.1, -1.46,0.03, -1.44,0.03, -1.415,0, -0.53,0, -0.51,0.05, -0.485,0.05, -0.46,0.1, -0.44,0.05, -0.42,0.05, -0.395,0, -0.05,0, -0.035,0.15, -0.02,0.2, 0.0,0.15, 0.005,0.05, 0.02,0, 0.155,0, 0.178,0.08, 0.2,0, 0.35,0, 0.373,0.1, 0.395,0.05, 0.418,0.52, 0.433,0.1, 0.455,0.02, 0.485,0.05, 0.508,0.35, 0.523,0.35, 0.538,0.05, 0.56,0.02, 0.59,0.03, 0.62,0.05, 0.65,0.05, 0.68,0.1, 0.71,0.2, 0.74,0.25, 0.755,0.55, 0.77,0.2, 0.793,0.6, 0.808,0.6, 0.83,0.25, 0.845,0.5, 0.86,0.45, 0.875,0.5, 0.898,0.55, 0.913,0.35, 0.935,0.2, 0.958,0.1, 0.973,0.4, 0.995,0.1, 1.025,0.05, 1.07,0.1, 1.1,0.05, 1.145,0.03, 1.19,0.05, 1.22,0.1, 1.243,0.3, 1.265,0.6, 1.28,0.5, 1.303,0.05, 1.318,0.3, 1.34,0.1, 1.363,0.05, 1.385,0.2, 1.408,0.55, 1.43,0.1, 1.453,0.35, 1.475,0.2, 1.498,0.1, 1.52,0.4, 1.543,0.3, 1.565,0.45, 1.58,0.65, 1.603,0.3, 1.625,0.5, 1.648,0.2, 1.67,0.35, 1.693,0.1, 1.715,0.9, 1.738,0.35, 1.76,0.05, 1.775,0.6, 1.798,0.8, 1.813,0.6, 1.835,0.7, 1.858,0.55, 1.88,0.7, 1.903,0.7, 1.925,0.85, 1.948,0.85, 1.97,0.9, 1.993,0.95, 2.0,0.95];

const spinUp = [upA, upB, upC, upD, upE, upF, upG, upH, upI, upJ, upK];
const spinDown = [downA, downB, downC, downD, downE, downF, downG, downH, downI, downJ, downK];

function toPoints(flat: number[]) {
  const pts: { x: number; y: number }[] = [];
  for (let i = 0; i < flat.length; i += 2) pts.push({ x: flat[i], y: flat[i + 1] });
  return pts;
}

const bgPlugin = {
  id: 'bg',
  beforeDraw(chart: any) {
    const { ctx, width, height } = chart;
    ctx.save();
    ctx.fillStyle = '#ffffff';
    ctx.fillRect(0, 0, width, height);
    ctx.restore();
  },
};

const decorPlugin = {
  id: 'decor',
  afterDatasetsDraw(chart: any) {
    const { ctx, chartArea, scales } = chart;
    const xs = scales.x;
    const L = chartArea.left;
    const R = chartArea.right;
    ctx.save();
    const x0 = xs.getPixelForValue(0);
    ctx.strokeStyle = '#0000ff';
    ctx.lineWidth = 4;
    ctx.setLineDash([22, 20]);
    ctx.beginPath();
    ctx.moveTo(x0, chartArea.top);
    ctx.lineTo(x0, chartArea.bottom);
    ctx.stroke();
    ctx.setLineDash([]);

    ctx.strokeStyle = '#000';
    ctx.fillStyle = '#000';
    panelLabels.forEach((lab, i) => {
      const ys = scales['y' + i];
      const top = ys.top;
      const bot = ys.bottom;
      ctx.lineWidth = 3.5;
      ctx.strokeRect(L, top, R - L, bot - top);
      ctx.lineWidth = 3;
      ctx.beginPath();
      xTickValues.forEach((v) => {
        const p = xs.getPixelForValue(v);
        ctx.moveTo(p, top); ctx.lineTo(p, top + 13);
        ctx.moveTo(p, bot); ctx.lineTo(p, bot - 13);
      });
      xMinorTicks.forEach((v) => {
        const p = xs.getPixelForValue(v);
        ctx.moveTo(p, top); ctx.lineTo(p, top + 8);
        ctx.moveTo(p, bot); ctx.lineTo(p, bot - 8);
      });
      yTickValues.forEach((v) => {
        const p = ys.getPixelForValue(v);
        const len = v === 0.5 ? 6 : 10;
        ctx.moveTo(L, p); ctx.lineTo(L + len, p);
        ctx.moveTo(R, p); ctx.lineTo(R - len, p);
      });
      ctx.stroke();
      ctx.font = `bold 24px ${FONT}`;
      ctx.textAlign = 'right';
      ctx.textBaseline = 'middle';
      const ly = ys.getPixelForValue(1.1);
      ctx.fillText(lab, xs.getPixelForValue(-1.015), ly);
      ctx.fillText(biasLabels[i], xs.getPixelForValue(-0.063), ly);
    });

    const ya = scales.y0;
    const legendRows: [number, string, string][] = [
      [1.18, '#000000', seriesNames[0]],
      [0.54, '#ff0000', seriesNames[1]],
    ];
    legendRows.forEach(([v, col, name]) => {
      const y = ya.getPixelForValue(v);
      ctx.strokeStyle = col;
      ctx.lineWidth = 4;
      ctx.beginPath();
      ctx.moveTo(xs.getPixelForValue(0), y);
      ctx.lineTo(xs.getPixelForValue(0.365), y);
      ctx.stroke();
      ctx.fillStyle = '#000';
      ctx.font = `bold 24px ${FONT}`;
      ctx.textAlign = 'left';
      ctx.textBaseline = 'middle';
      ctx.fillText(name, xs.getPixelForValue(0.405), y + 2);
    });

    const yf = scales.y5;
    ctx.fillStyle = '#000';
    ctx.strokeStyle = '#000';
    ctx.font = `bold 23px ${FONT}`;
    ctx.textAlign = 'left';
    ctx.textBaseline = 'middle';
    ctx.fillText('Fermi level', xs.getPixelForValue(0.271), yf.getPixelForValue(1.16));
    const tx = xs.getPixelForValue(0.02), ty = yf.getPixelForValue(0.36);
    const sx = xs.getPixelForValue(0.23), sy = yf.getPixelForValue(0.84);
    const dx = tx - sx, dy = ty - sy;
    const len = Math.hypot(dx, dy);
    const ux = dx / len, uy = dy / len;
    const hl = 17, hw = 8;
    const bx = tx - ux * hl, by = ty - uy * hl;
    ctx.lineWidth = 3.5;
    ctx.beginPath();
    ctx.moveTo(sx, sy);
    ctx.lineTo(bx, by);
    ctx.stroke();
    ctx.beginPath();
    ctx.moveTo(tx, ty);
    ctx.lineTo(bx - uy * hw, by + ux * hw);
    ctx.lineTo(bx + uy * hw, by - ux * hw);
    ctx.closePath();
    ctx.fill();
    ctx.restore();
  },
};

function zeroPad(s: any) {
  s.paddingLeft = 0;
  s.paddingRight = 0;
  s.paddingTop = 0;
  s.paddingBottom = 0;
}

export default function App() {
  const ref = useRef<HTMLCanvasElement>(null);
  useEffect(() => {
    const canvas = ref.current;
    if (!canvas) return;
    const scales: any = {
      x: {
        type: 'linear',
        position: 'bottom',
        min: -2,
        max: 2,
        afterBuildTicks: (s: any) => { s.ticks = xTickValues.map((v) => ({ value: v })); },
        afterFit: (s: any) => { s.height = 93; zeroPad(s); },
        grid: { display: false, drawTicks: false },
        border: { display: false },
        ticks: {
          autoSkip: false,
          maxRotation: 0,
          padding: 19,
          color: '#000',
          font: { family: FONT, weight: 'bold', size: 27 },
          callback: (v: any) => String(v),
        },
        title: {
          display: true,
          text: 'Energy (eV)',
          color: '#000',
          font: { family: FONT, weight: 'bold', size: 33 },
          padding: { top: 0, bottom: 9 },
        },
      },
    };
    panelLabels.forEach((_, i) => {
      scales['y' + i] = {
        type: 'linear',
        position: 'left',
        stack: 'panels',
        stackWeight: 1,
        weight: 11 - i,
        offset: false,
        min: -0.03,
        max: 1.48,
        afterBuildTicks: (s: any) => { s.ticks = yTickValues.map((v) => ({ value: v })); },
        afterFit: (s: any) => { s.width = 84; zeroPad(s); },
        grid: { display: false, drawTicks: false },
        border: { display: false },
        ticks: {
          autoSkip: false,
          padding: 18,
          labelOffset: 2,
          color: '#000',
          font: { family: FONT, weight: 'bold', size: 27 },
          callback: (v: any) => (v === 0.5 ? '' : String(v)),
        },
        title: i === 5
          ? {
              display: true,
              text: 'Transmission',
              color: '#000',
              font: { family: FONT, weight: 'bold', size: 33 },
              padding: { top: 10, bottom: 0 },
            }
          : { display: false },
      };
    });
    const datasets: any[] = [];
    spinDown.forEach((d, i) => {
      datasets.push({
        label: seriesNames[1],
        data: toPoints(d),
        xAxisID: 'x',
        yAxisID: 'y' + i,
        borderColor: '#ff0000',
        backgroundColor: '#ff0000',
        borderWidth: 3.5,
        pointRadius: 0,
        tension: 0,
        fill: false,
        borderJoinStyle: 'round',
        borderCapStyle: 'round',
        order: 0,
        clip: { left: 0, top: 0, right: 0, bottom: 2 },
      });
    });
    spinUp.forEach((d, i) => {
      datasets.push({
        label: seriesNames[0],
        data: toPoints(d),
        xAxisID: 'x',
        yAxisID: 'y' + i,
        borderColor: '#000000',
        backgroundColor: '#000000',
        borderWidth: 3.5,
        pointRadius: 0,
        tension: 0,
        fill: false,
        borderJoinStyle: 'round',
        borderCapStyle: 'round',
        order: 1,
        clip: { left: 0, top: 0, right: 0, bottom: 2 },
      });
    });
    const chart = new Chart(canvas, {
      type: 'line',
      data: { datasets },
      options: {
        responsive: false,
        animation: false,
        devicePixelRatio: 1,
        events: [],
        layout: { autoPadding: false, padding: { left: 0, top: 10, right: 14, bottom: 0 } },
        plugins: { legend: { display: false }, tooltip: { enabled: false } },
        scales,
      } as any,
      plugins: [bgPlugin, decorPlugin],
    });
    return () => chart.destroy();
  }, []);
  return (
    <div style={{ position: 'absolute', left: 0, top: 0, width: 984, height: 1241, background: '#fff' }}>
      <canvas ref={ref} width={984} height={1241} style={{ display: 'block' }} />
    </div>
  );
}
